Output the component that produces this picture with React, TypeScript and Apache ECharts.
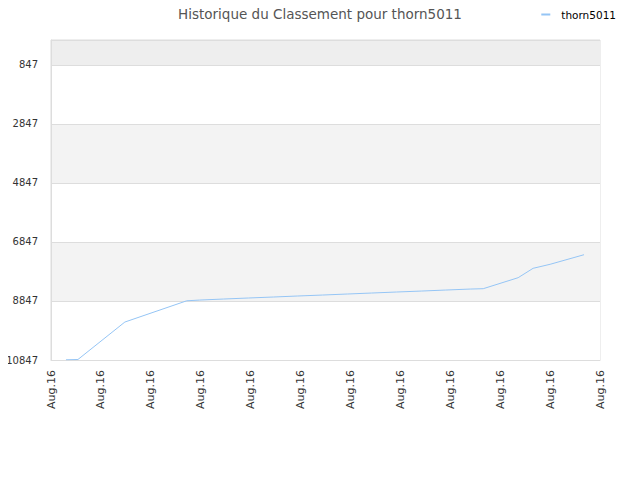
import { useEffect, useRef } from 'react';
import * as echarts from 'echarts';

const playerName = 'thorn5011';
const xTickLabels = ['Aug.16', 'Aug.16', 'Aug.16', 'Aug.16', 'Aug.16', 'Aug.16', 'Aug.16', 'Aug.16', 'Aug.16', 'Aug.16', 'Aug.16', 'Aug.16'];
// position of each point along the axis (1 unit = one label step)
const pointTimes = [0.3, 0.54, 1.48, 2.72, 2.98, 3.46, 3.96, 4.46, 4.94, 5.44, 5.94, 6.42, 6.92, 7.42, 7.9, 8.4, 8.66, 9.36, 9.66, 10.0, 10.68];
const ranks = [10840, 10830, 9560, 8840, 8815, 8780, 8745, 8712, 8678, 8645, 8610, 8577, 8543, 8510, 8476, 8442, 8430, 8057, 7739, 7603, 7278];
const worstRank = 10847;

export default function App() {
  const chartRef = useRef(null);

  useEffect(() => {
    const chart = echarts.init(chartRef.current, null, { renderer: 'svg' });
    const font = 'DejaVu Sans';
    const option = {
      animation: false,
      textStyle: { fontFamily: font },
      title: {
        text: 'Historique du Classement pour ' + playerName,
        left: 'center',
        top: 2,
        textStyle: { fontSize: 13.5, fontWeight: 'normal', color: '#555', fontFamily: font },
      },
      legend: {
        data: [playerName],
        right: 19,
        top: 4,
        icon: 'rect',
        itemWidth: 9,
        itemHeight: 2,
        itemGap: 8,
        textStyle: { fontSize: 10.5, color: '#000', fontFamily: font, padding: [0, 0, 0, 6] },
      },
      grid: {
        left: 51,
        right: 40,
        top: 40,
        bottom: 120,
        show: true,
        borderColor: '#ddd',
        borderWidth: 1,
      },
      xAxis: {
        type: 'value',
        min: 0,
        max: xTickLabels.length - 1,
        interval: 1,
        axisLine: { lineStyle: { color: '#ddd' } },
        axisTick: { show: false },
        splitLine: { show: false },
        axisLabel: {
          rotate: 90,
          margin: 10,
          fontSize: 11,
          color: '#333',
          fontFamily: font,
          formatter: (v: number) => xTickLabels[Math.round(v)] ?? '',
        },
      },
      yAxis: {
        type: 'value',
        min: 0,
        max: worstRank,
        interval: 2000,
        axisLine: { show: true, lineStyle: { color: '#ddd' } },
        axisTick: { show: false },
        splitLine: { lineStyle: { color: '#ddd' } },
        splitArea: { show: true, areaStyle: { color: ['#fff', '#f3f3f3', '#fff', '#f3f3f3', '#fff', '#eee'] } },
        axisLabel: {
          showMaxLabel: false,
          margin: 13,
          fontSize: 10,
          color: '#333',
          fontFamily: font,
          formatter: (v: number) => String(worstRank - v),
        },
      },
      series: [
        {
          name: playerName,
          type: 'line',
          showSymbol: false,
          symbol: 'none',
          itemStyle: { color: '#95c5f5' },
          lineStyle: { color: '#95c5f5', width: 1 },
          data: pointTimes.map((t, i) => [t, worstRank - ranks[i]]),
        },
      ],
    };
    chart.setOption(option);
    return () => {
      chart.dispose();
    };
  }, []);

  return <div ref={chartRef} style={{ width: '640px', height: '480px', margin: '-8px' }} />;
}
